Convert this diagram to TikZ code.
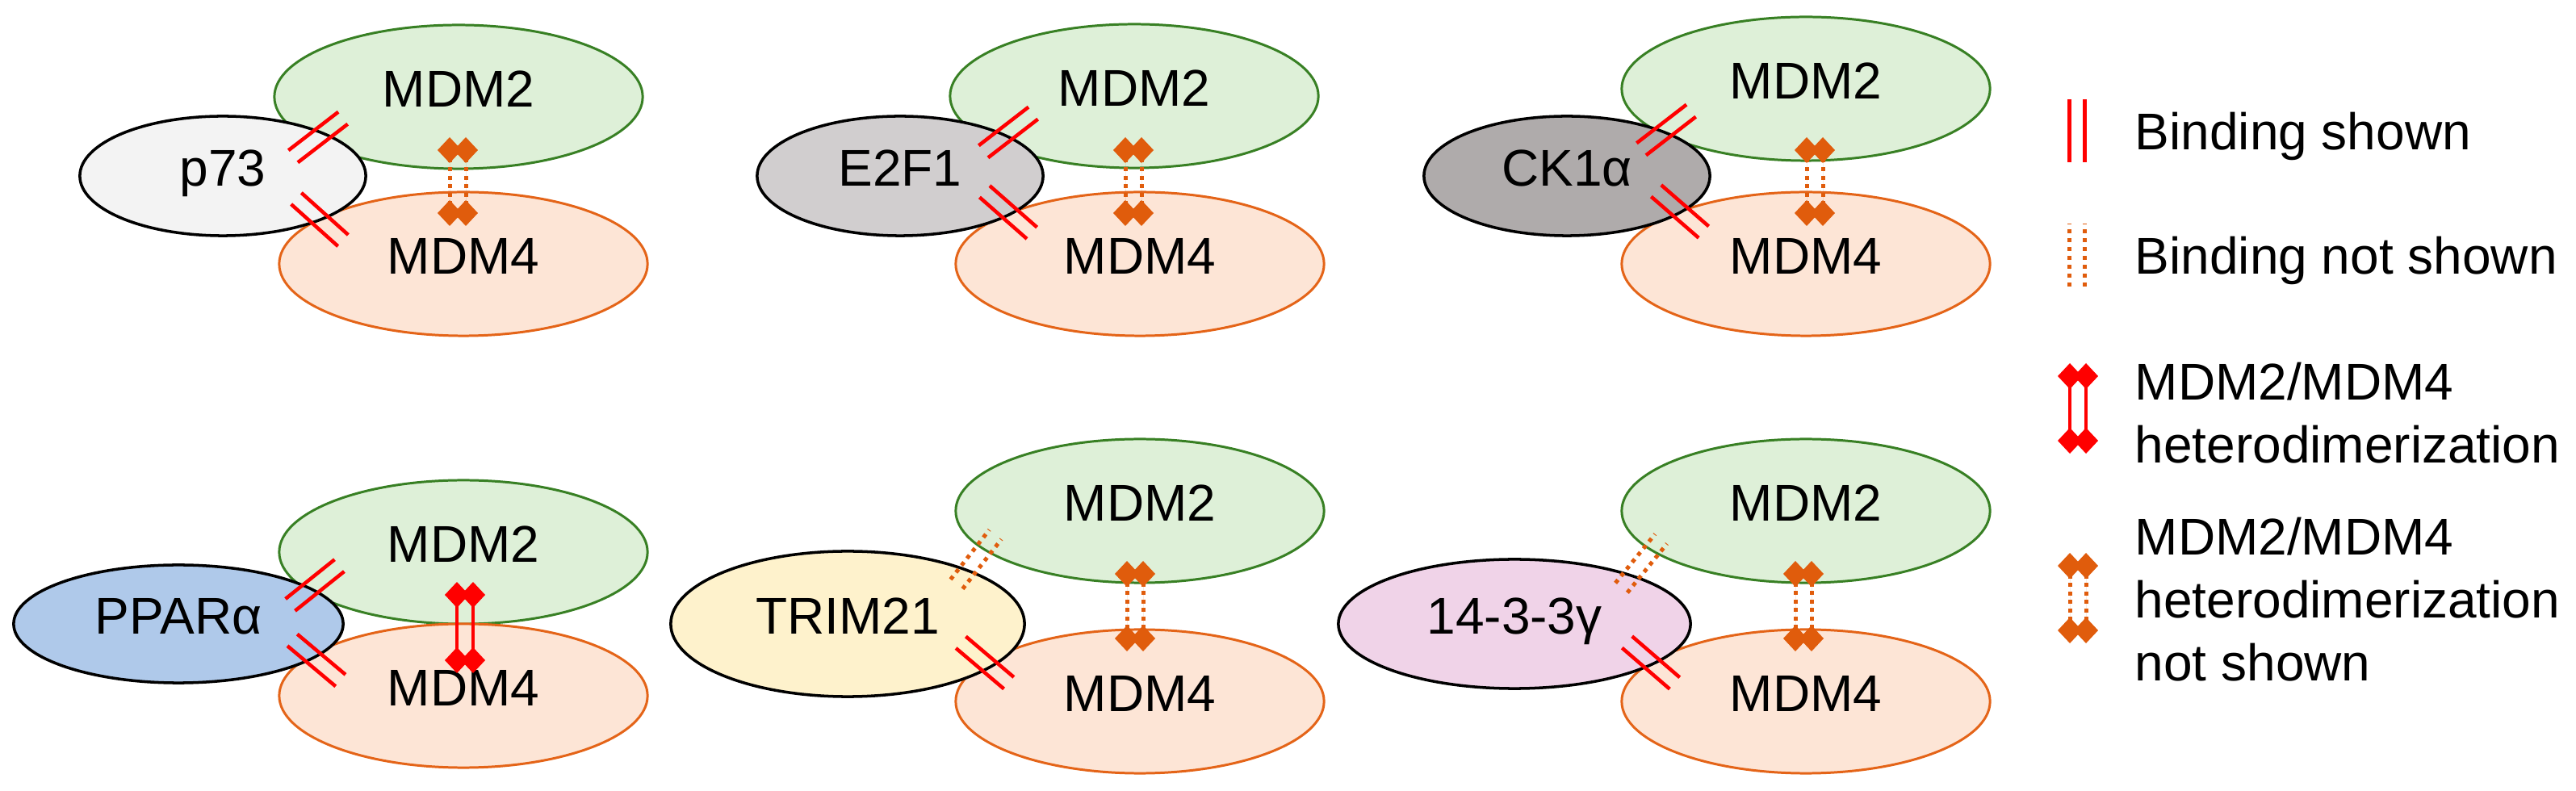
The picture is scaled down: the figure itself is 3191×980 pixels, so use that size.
\documentclass[tikz,border=0pt]{standalone}
\usepackage{fontspec}
\setmainfont{Liberation Sans}
\usetikzlibrary{shapes.geometric}

\definecolor{mdmtwofill}{RGB}{222,240,216}
\definecolor{mdmtwoline}{RGB}{56,128,36}
\definecolor{mdmfourfill}{RGB}{253,229,214}
\definecolor{mdmfourline}{RGB}{228,100,24}
\definecolor{pfill}{RGB}{243,243,243}
\definecolor{efill}{RGB}{209,206,207}
\definecolor{ckfill}{RGB}{175,171,171}
\definecolor{ppfill}{RGB}{175,201,234}
\definecolor{trfill}{RGB}{254,242,204}
\definecolor{ywfill}{RGB}{240,211,232}
\definecolor{dimorange}{RGB}{224,92,12}

\begin{document}
\begin{tikzpicture}[
      x=0.01cm, y=-0.01cm,
      font=\fontsize{18.2}{22.3}\selectfont,
      prot/.style={ellipse, inner sep=0pt, text height=0.716em, text depth=0pt},
      mdmtwo/.style={prot, draw=mdmtwoline, fill=mdmtwofill, line width=0.85pt,
                     minimum width=4.56cm, minimum height=1.78cm},
      mdmfour/.style={prot, draw=mdmfourline, fill=mdmfourfill, line width=0.85pt,
                      minimum width=4.56cm, minimum height=1.78cm},
      partner/.style={prot, draw=black, line width=1pt,
                      minimum width=3.54cm, minimum height=1.48cm},
      bind/.style={draw=red, line width=0.045cm},
      nobind/.style={draw=dimorange, line width=0.05cm,
                     dash pattern=on 0.05cm off 0.06cm},
      dimer/.style={draw=red, fill=red, line width=0.045cm},
      nodimer/.style={draw=dimorange, fill=dimorange, line width=0.05cm,
                      dash pattern=on 0.05cm off 0.055cm},
      legtext/.style={anchor=base west, align=left, inner sep=0pt},
      pics/bond/.style={code={
          \draw[#1] (-39,-9.5) -- (39,-9.5) (-39,9.5) -- (39,9.5);}},
      pics/hetero/.style 2 args={code={
          \draw[#1] (-10,0) -- (-10,#2) (10,0) -- (10,#2);
          \foreach \dx in {-10,10} {\foreach \dy in {0,#2} {
            \fill[#1, draw=none] (\dx,\dy) +(-15,0) -- +(0,-16) -- +(15,0)
                      -- +(0,16) -- cycle;}}}},
    ]
    \useasboundingbox (0,0) rectangle (3191,980);

    % --- top row: p73, E2F1, CK1alpha -------------------------------------
    \node[mdmtwo]  (ma2) at (568,120)  {MDM2};
    \node[mdmfour] (ma4) at (574,327)  {MDM4};
    \node[partner, fill=pfill] (p73) at (276,218) {p73};

    \node[mdmtwo]  (mb2) at (1405,119) {MDM2};
    \node[mdmfour] (mb4) at (1412,327) {MDM4};
    \node[partner, fill=efill] (e2f1) at (1115,218) {E2F1};

    \node[mdmtwo]  (mc2) at (2237,110) {MDM2};
    \node[mdmfour] (mc4) at (2237,327) {MDM4};
    \node[partner, fill=ckfill] (ck1a) at (1941,218) {CK1α};

    % --- bottom row: PPARalpha, TRIM21, 14-3-3gamma ------------------------
    \node[mdmtwo]  (md2) at (574,684)  {MDM2};
    \node[mdmfour] (md4) at (574,862)  {MDM4};
    \node[partner, fill=ppfill, minimum width=4.08cm, minimum height=1.46cm]
          (ppara) at (221,773) {PPARα};

    \node[mdmtwo]  (me2) at (1412,633) {MDM2};
    \node[mdmfour] (me4) at (1412,869) {MDM4};
    \node[partner, fill=trfill, minimum width=4.38cm, minimum height=1.80cm]
          (trim) at (1050,773) {TRIM21};

    \node[mdmtwo]  (mf2) at (2237,633) {MDM2};
    \node[mdmfour] (mf4) at (2237,869) {MDM4};
    \node[partner, fill=ywfill, minimum width=4.36cm, minimum height=1.60cm]
          (ywhag) at (1876,773) {14-3-3γ};

    % --- binding marks on the overlaps ------------------------------------
    \pic[rotate=37.6]  at (394,170)  {bond=bind};
    \pic[rotate=-41.9] at (396,272)  {bond=bind};
    \pic[rotate=37.7]  at (1249,164) {bond=bind};
    \pic[rotate=-41.3] at (1249,263) {bond=bind};
    \pic[rotate=37.7]  at (2064,161) {bond=bind};
    \pic[rotate=-41]   at (2081,262) {bond=bind};
    \pic[rotate=38.7]  at (390,725)  {bond=bind};
    \pic[rotate=-40]   at (392,818)  {bond=bind};
    \pic[rotate=52]    at (1209,693) {bond=nobind};
    \pic[rotate=-40.3] at (1220,821) {bond=bind};
    \pic[rotate=51]    at (2033,698) {bond=nobind};
    \pic[rotate=-40.8] at (2045,821) {bond=bind};

    % --- MDM2/MDM4 heterodimer marks --------------------------------------
    \pic at (567,186)  {hetero={nodimer}{78}};
    \pic at (1404,186) {hetero={nodimer}{78}};
    \pic at (2248,186) {hetero={nodimer}{78}};
    \pic at (576,737)  {hetero={dimer}{81}};
    \pic at (1406,711) {hetero={nodimer}{80}};
    \pic at (2234,711) {hetero={nodimer}{80}};

    % --- legend (base = last line of each entry) --------------------------
    \pic[rotate=90] at (2573,162) {bond=bind};
    \pic[rotate=90] at (2573,316) {bond=nobind};
    \pic at (2574,466) {hetero={dimer}{80}};
    \pic at (2574,701) {hetero={nodimer}{80}};
    \node[legtext] (lbind)    at (2644,186) {Binding shown};
    \node[legtext] (lnobind)  at (2644,340) {Binding not shown};
    \node[legtext] (ldimer)   at (2644,574) {MDM2/MDM4\\heterodimerization};
    \node[legtext] (lnodimer) at (2644,844) {MDM2/MDM4\\heterodimerization\\
                                             not shown};
  \end{tikzpicture}
\end{document}
